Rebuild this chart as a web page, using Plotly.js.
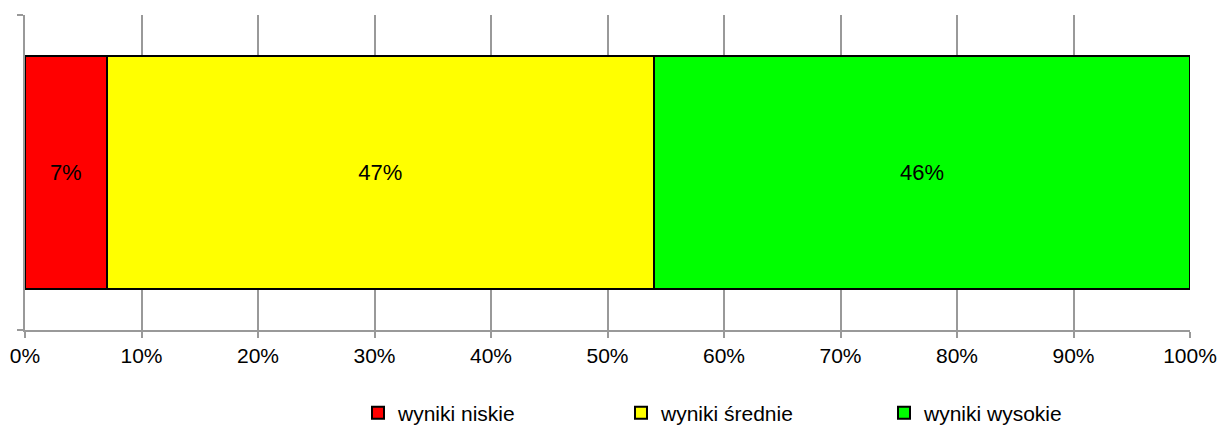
<!DOCTYPE html>
<html><head><meta charset="utf-8">
<script src="https://cdn.plot.ly/plotly-3.0.1.min.js"></script>
<style>body{margin:0;background:#fff}#chart{width:1220px;height:426px}</style>
</head><body><div id="chart"></div>
<script>
const category = ['wyniki'];
const seriesNames = ['wyniki niskie', 'wyniki średnie', 'wyniki wysokie'];
const niskie = [7];
const srednie = [47];
const wysokie = [46];
const colors = ['#ff0000', '#ffff00', '#00ff00'];
const tickVals = [0,10,20,30,40,50,60,70,80,90,100];
const tickText = tickVals.map(v => v + '%');

const values = [niskie, srednie, wysokie];
const traces = values.map((vals, i) => ({
  type: 'bar', orientation: 'h',
  x: vals, y: category, name: seriesNames[i],
  marker: {color: colors[i], line: {color: '#000', width: 2}},
  text: vals.map(v => v + '%'), textposition: 'inside', insidetextanchor: 'middle',
  textangle: 0, textfont: {color: '#000', size: 22, family: 'Liberation Sans, Arial, sans-serif'},
  constraintext: 'none', hoverinfo: 'skip'
}));

const layout = {
  width: 1220, height: 426,
  margin: {l: 25, r: 30, t: 15, b: 96},
  barmode: 'stack', bargap: 0.26,
  paper_bgcolor: '#fff', plot_bgcolor: '#fff',
  font: {family: 'Liberation Sans, Arial, sans-serif', color: '#000', size: 21},
  xaxis: {range: [0, 100], tickvals: tickVals, ticktext: tickText,
    showgrid: true, gridcolor: '#999', gridwidth: 2,
    showline: true, linecolor: '#999', linewidth: 2,
    ticks: 'outside', ticklen: 6, tickcolor: '#999', tickwidth: 2,
    zeroline: false, fixedrange: true, tickfont: {size: 21}, automargin: false},
  yaxis: {type: 'category', showticklabels: false, tickson: 'boundaries',
    ticks: 'outside', ticklen: 6, tickcolor: '#999', tickwidth: 2,
    showline: true, linecolor: '#999', linewidth: 2, showgrid: false,
    zeroline: false, fixedrange: true, automargin: false},
  showlegend: true,
  legend: {orientation: 'h', xref: 'container', yref: 'container',
    x: 358 / 1220, xanchor: 'left', y: 13 / 426, yanchor: 'middle',
    entrywidth: 218, entrywidthmode: 'pixels', itemwidth: 30,
    font: {size: 21}, traceorder: 'normal'}
};
Plotly.newPlot('chart', traces, layout, {displayModeBar: false, staticPlot: true});
</script></body></html>
